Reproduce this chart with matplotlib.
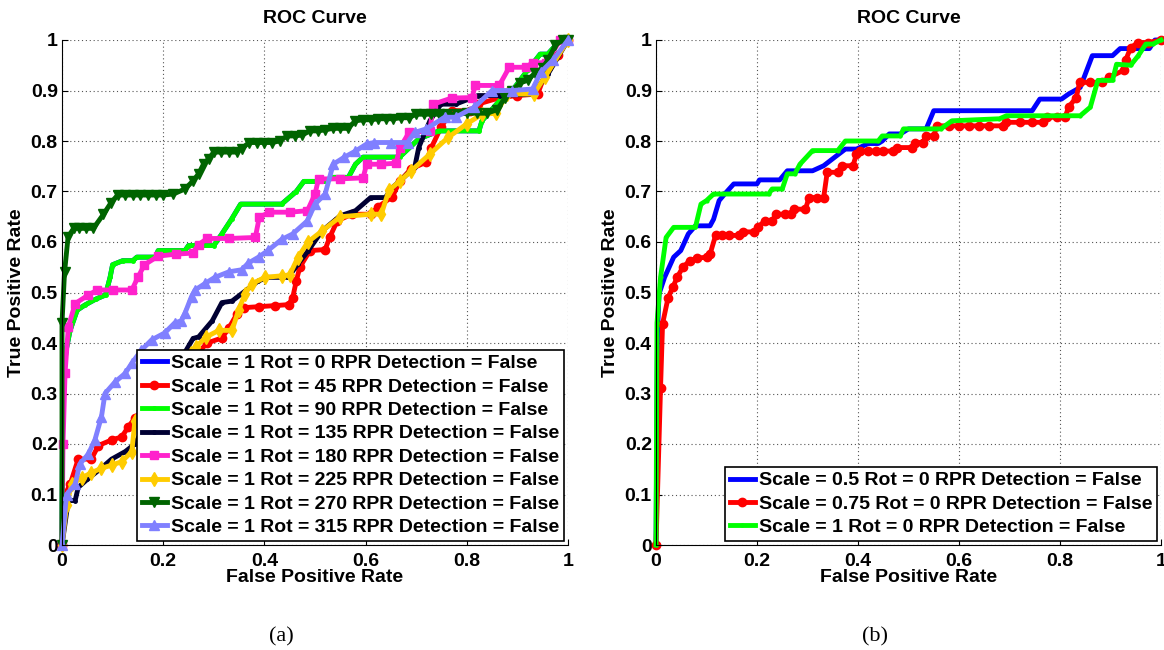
import numpy as np
import matplotlib
matplotlib.use("Agg")
from matplotlib import pyplot as plt
from matplotlib.ticker import FuncFormatter

plt.rcParams['font.family'] = ['Liberation Sans', 'DejaVu Sans']
plt.rcParams['font.weight'] = 'bold'

# (a) same scale, different rotations -- (FPR, TPR) points
roc_90 = [(0, 0), (0.001, 0.25), (0.003, 0.33), (0.008, 0.385), (0.016, 0.425), (0.03, 0.465),
          (0.045, 0.475), (0.067, 0.487), (0.086, 0.495), (0.095, 0.53), (0.1, 0.555), (0.12, 0.563),
          (0.14, 0.563), (0.148, 0.57), (0.185, 0.57), (0.19, 0.583), (0.243, 0.583), (0.25, 0.593),
          (0.30, 0.593), (0.316, 0.616), (0.335, 0.645), (0.353, 0.675), (0.434, 0.675), (0.463, 0.70),
          (0.478, 0.72), (0.52, 0.72), (0.536, 0.728), (0.566, 0.728), (0.58, 0.754), (0.595, 0.768),
          (0.667, 0.768), (0.705, 0.804), (0.745, 0.82), (0.824, 0.82), (0.83, 0.84), (0.865, 0.88),
          (0.89, 0.9), (0.92, 0.94), (0.945, 0.972), (0.96, 0.972), (0.985, 1.0), (1.0, 1.0)]
roc_0 = list(roc_90)  # rot 0 is completely covered by the other curves
roc_45 = [(0, 0), (0.006, 0.1), (0.016, 0.12), (0.032, 0.17), (0.058, 0.17), (0.072, 0.197),
          (0.098, 0.208), (0.118, 0.214), (0.131, 0.234), (0.144, 0.251), (0.152, 0.255), (0.2, 0.31),
          (0.25, 0.36), (0.287, 0.4), (0.316, 0.41), (0.33, 0.43), (0.346, 0.458), (0.36, 0.47),
          (0.39, 0.472), (0.42, 0.474), (0.448, 0.476), (0.456, 0.49), (0.463, 0.523), (0.47, 0.55),
          (0.49, 0.583), (0.52, 0.585), (0.529, 0.609), (0.544, 0.642), (0.573, 0.655), (0.61, 0.655),
          (0.624, 0.669), (0.653, 0.69), (0.668, 0.721), (0.69, 0.745), (0.72, 0.758), (0.73, 0.787),
          (0.749, 0.827), (0.77, 0.86), (0.807, 0.86), (0.822, 0.873), (0.866, 0.886), (0.9, 0.89),
          (0.94, 0.893), (0.96, 0.946), (0.98, 0.97), (1.0, 1.0)]
roc_135 = [(0, 0), (0.0125, 0.088), (0.026, 0.088), (0.032, 0.114), (0.05, 0.13), (0.075, 0.15),
           (0.098, 0.17), (0.125, 0.185), (0.144, 0.2), (0.2, 0.3), (0.245, 0.385), (0.259, 0.409),
           (0.27, 0.412), (0.297, 0.444), (0.316, 0.48), (0.336, 0.483), (0.362, 0.503), (0.388, 0.523),
           (0.408, 0.53), (0.447, 0.53), (0.466, 0.556), (0.486, 0.582), (0.514, 0.622), (0.55, 0.652),
           (0.58, 0.662), (0.61, 0.688), (0.639, 0.688), (0.653, 0.708), (0.668, 0.721), (0.697, 0.748),
           (0.705, 0.787), (0.727, 0.84), (0.749, 0.873), (0.778, 0.873), (0.822, 0.89), (0.866, 0.89),
           (0.93, 0.893), (0.96, 0.932), (1.0, 1.0)]
roc_180 = [(0, 0), (0.002, 0.2), (0.006, 0.34), (0.0125, 0.432), (0.026, 0.478), (0.052, 0.495),
           (0.07, 0.505), (0.1, 0.505), (0.138, 0.505), (0.15, 0.53), (0.163, 0.555), (0.19, 0.572),
           (0.225, 0.576), (0.258, 0.578), (0.27, 0.595), (0.287, 0.607), (0.33, 0.607), (0.382, 0.609),
           (0.39, 0.649), (0.41, 0.659), (0.45, 0.659), (0.485, 0.662), (0.5, 0.695), (0.507, 0.725),
           (0.55, 0.725), (0.595, 0.727), (0.602, 0.754), (0.63, 0.754), (0.66, 0.756), (0.668, 0.787),
           (0.686, 0.817), (0.727, 0.82), (0.734, 0.873), (0.77, 0.885), (0.81, 0.886), (0.817, 0.91),
           (0.864, 0.91), (0.884, 0.946), (0.917, 0.946), (0.93, 0.955), (0.956, 0.955), (0.985, 1.0),
           (1.0, 1.0)]
roc_225 = [(0, 0), (0.0093, 0.08), (0.019, 0.12), (0.039, 0.133), (0.058, 0.143), (0.078, 0.152),
           (0.098, 0.158), (0.118, 0.165), (0.138, 0.185), (0.144, 0.245), (0.2, 0.3), (0.255, 0.38),
           (0.265, 0.393), (0.285, 0.412), (0.31, 0.425), (0.336, 0.425), (0.349, 0.465), (0.362, 0.498),
           (0.375, 0.517), (0.401, 0.53), (0.434, 0.533), (0.45, 0.535), (0.466, 0.569), (0.486, 0.6),
           (0.514, 0.622), (0.55, 0.65), (0.61, 0.655), (0.631, 0.655), (0.646, 0.702), (0.668, 0.721),
           (0.69, 0.741), (0.727, 0.774), (0.763, 0.807), (0.8, 0.834), (0.83, 0.853), (0.858, 0.855),
           (0.88, 0.893), (0.932, 0.893), (0.954, 0.926), (1.0, 1.0)]
roc_270 = [(0, 0), (0, 0.44), (0.005, 0.54), (0.012, 0.61), (0.023, 0.627), (0.034, 0.627),
           (0.048, 0.627), (0.062, 0.627), (0.082, 0.655), (0.097, 0.678), (0.11, 0.693), (0.125, 0.693),
           (0.14, 0.693), (0.155, 0.693), (0.17, 0.693), (0.185, 0.693), (0.2, 0.693), (0.22, 0.695),
           (0.243, 0.705), (0.258, 0.72), (0.27, 0.735), (0.28, 0.755), (0.29, 0.765), (0.3, 0.778),
           (0.315, 0.778), (0.33, 0.778), (0.345, 0.778), (0.355, 0.785), (0.37, 0.797), (0.385, 0.797),
           (0.4, 0.797), (0.415, 0.797), (0.43, 0.8), (0.445, 0.81), (0.46, 0.81), (0.475, 0.812),
           (0.49, 0.82), (0.505, 0.82), (0.52, 0.822), (0.535, 0.825), (0.55, 0.825), (0.565, 0.825),
           (0.58, 0.84), (0.595, 0.842), (0.61, 0.842), (0.625, 0.844), (0.64, 0.844), (0.655, 0.844),
           (0.67, 0.846), (0.685, 0.846), (0.7, 0.853), (0.715, 0.853), (0.73, 0.853), (0.745, 0.853),
           (0.76, 0.853), (0.78, 0.853), (0.8, 0.855), (0.82, 0.855), (0.84, 0.855), (0.86, 0.862),
           (0.875, 0.885), (0.89, 0.9), (0.905, 0.915), (0.92, 0.92), (0.935, 0.935), (0.95, 0.945),
           (0.96, 0.96), (0.975, 0.99), (0.99, 1.0), (1.0, 1.0)]
roc_315 = [(0, 0), (0.009, 0.1), (0.026, 0.12), (0.035, 0.16), (0.052, 0.18), (0.065, 0.208),
           (0.078, 0.254), (0.085, 0.3), (0.105, 0.323), (0.125, 0.34), (0.138, 0.36), (0.157, 0.386),
           (0.177, 0.406), (0.203, 0.42), (0.223, 0.44), (0.236, 0.444), (0.243, 0.459), (0.256, 0.492),
           (0.263, 0.505), (0.283, 0.518), (0.302, 0.53), (0.33, 0.541), (0.355, 0.545), (0.368, 0.558),
           (0.39, 0.571), (0.408, 0.584), (0.434, 0.605), (0.456, 0.616), (0.485, 0.642), (0.5, 0.675),
           (0.52, 0.695), (0.536, 0.754), (0.558, 0.768), (0.58, 0.78), (0.602, 0.794), (0.617, 0.797),
           (0.65, 0.797), (0.683, 0.797), (0.697, 0.817), (0.72, 0.824), (0.756, 0.847), (0.778, 0.847),
           (0.815, 0.867), (0.85, 0.9), (0.89, 0.9), (0.93, 0.903), (0.946, 0.936), (0.97, 0.96),
           (1.0, 1.0)]
rot_labels = ["Scale = 1 Rot = %d RPR Detection = False" % r for r in [0, 45, 90, 135, 180, 225, 270, 315]]

# (b) rotation 0, different scales
roc_s05 = [(0, 0), (0.003, 0.42), (0.006, 0.497), (0.017, 0.53), (0.035, 0.57), (0.049, 0.583),
           (0.064, 0.616), (0.078, 0.632), (0.107, 0.632), (0.114, 0.645), (0.125, 0.682), (0.136, 0.695),
           (0.154, 0.715), (0.2, 0.715), (0.205, 0.723), (0.245, 0.723), (0.26, 0.741), (0.31, 0.741),
           (0.332, 0.751), (0.354, 0.768), (0.375, 0.784), (0.397, 0.784), (0.42, 0.795), (0.44, 0.795),
           (0.448, 0.8), (0.462, 0.814), (0.484, 0.814), (0.5, 0.824), (0.535, 0.824), (0.55, 0.86),
           (0.745, 0.86), (0.76, 0.883), (0.803, 0.883), (0.817, 0.893), (0.84, 0.906), (0.864, 0.969),
           (0.904, 0.969), (0.919, 0.983), (0.977, 0.983), (0.988, 1.0), (1.0, 1.0)]
roc_s075 = [(0, 0), (0.009, 0.311), (0.013, 0.438), (0.024, 0.49), (0.033, 0.51), (0.042, 0.53),
            (0.053, 0.55), (0.067, 0.563), (0.082, 0.568), (0.1, 0.57), (0.107, 0.576), (0.118, 0.613),
            (0.13, 0.613), (0.145, 0.613), (0.165, 0.613), (0.172, 0.62), (0.194, 0.62), (0.201, 0.629),
            (0.216, 0.642), (0.23, 0.642), (0.238, 0.655), (0.255, 0.655), (0.267, 0.655), (0.274, 0.665),
            (0.296, 0.665), (0.303, 0.688), (0.318, 0.688), (0.332, 0.688), (0.339, 0.738), (0.36, 0.738),
            (0.368, 0.751), (0.39, 0.751), (0.397, 0.774), (0.404, 0.78), (0.42, 0.78), (0.435, 0.78),
            (0.45, 0.78), (0.47, 0.78), (0.477, 0.787), (0.506, 0.787), (0.513, 0.797), (0.528, 0.797),
            (0.535, 0.81), (0.55, 0.81), (0.556, 0.83), (0.58, 0.83), (0.6, 0.83), (0.62, 0.83),
            (0.64, 0.83), (0.66, 0.83), (0.687, 0.83), (0.694, 0.837), (0.72, 0.837), (0.745, 0.837),
            (0.767, 0.837), (0.774, 0.847), (0.795, 0.847), (0.81, 0.847), (0.817, 0.867), (0.832, 0.886),
            (0.839, 0.916), (0.86, 0.916), (0.883, 0.916), (0.897, 0.926), (0.926, 0.94), (0.93, 0.96),
            (0.94, 0.985), (0.955, 0.995), (0.975, 0.995), (1.0, 1.0)]
roc_s1 = [(0, 0), (0.002, 0.44), (0.009, 0.53), (0.02, 0.609), (0.035, 0.629), (0.078, 0.629),
          (0.089, 0.675), (0.1, 0.682), (0.114, 0.695), (0.223, 0.695), (0.23, 0.705), (0.25, 0.705),
          (0.26, 0.735), (0.275, 0.735), (0.285, 0.754), (0.31, 0.781), (0.36, 0.781), (0.375, 0.8),
          (0.44, 0.8), (0.448, 0.81), (0.484, 0.81), (0.49, 0.824), (0.564, 0.824), (0.586, 0.84),
          (0.68, 0.844), (0.694, 0.85), (0.84, 0.85), (0.86, 0.867), (0.875, 0.92), (0.904, 0.92),
          (0.912, 0.952), (0.94, 0.95), (0.955, 0.969), (0.97, 0.992), (0.984, 0.992), (1.0, 1.0)]
scale_labels = ["Scale = 0.5 Rot = 0 RPR Detection = False",
                "Scale = 0.75 Rot = 0 RPR Detection = False",
                "Scale = 1 Rot = 0 RPR Detection = False"]

left_curves = [roc_0, roc_45, roc_90, roc_135, roc_180, roc_225, roc_270, roc_315]
left_styles = [("#0000ff", None, 0), ("#ff0000", "o", 6), ("#00ff00", ".", 5), ("#000033", ".", 5),
               ("#ff22cc", "s", 6), ("#ffcc00", "d", 7), ("#006400", "v", 7), ("#8080ff", "^", 7)]
right_curves = [roc_s05, roc_s075, roc_s1]
right_styles = [("#0000ff", None, 0), ("#ff0000", "o", 6), ("#00ff00", ".", 4)]

fig = plt.figure(figsize=(11.64, 6.5), dpi=100)
ax_a = fig.add_axes([62 / 1164, 1 - 545 / 650, 506 / 1164, 505 / 650])
ax_b = fig.add_axes([656 / 1164, 1 - 545 / 650, 505 / 1164, 505 / 650])


def draw_panel(ax, curves, styles, labels):
    for pts, (col, mk, ms), lab in zip(curves, styles, labels):
        pts = np.array(pts)
        ax.plot(pts[:, 0], pts[:, 1], color=col, lw=3.5, marker=mk, ms=ms, mec=col, mfc=col,
                label=lab, clip_on=False)
    ax.set_xlim(0, 1)
    ax.set_ylim(0, 1)
    ax.set_xticks(np.linspace(0, 1, 6))
    ax.set_yticks(np.linspace(0, 1, 11))
    fmt = FuncFormatter(lambda v, p: "%g" % round(v, 2))
    ax.xaxis.set_major_formatter(fmt)
    ax.yaxis.set_major_formatter(fmt)
    ax.tick_params(direction='in', length=4, labelsize=14, pad=3)
    ax.tick_params(axis='x', pad=6)
    ax.grid(True, linestyle=(0, (1, 2.5)), color='#555555', lw=0.8)
    ax.spines['top'].set_visible(False)
    ax.spines['right'].set_visible(False)
    ax.set_title("ROC Curve", fontsize=14, fontweight='bold', pad=12)
    ax.set_xlabel("False Positive Rate", fontsize=14, fontweight='bold', labelpad=-1)
    ax.set_ylabel("True Positive Rate", fontsize=14, fontweight='bold', labelpad=4)
    leg = ax.legend(loc='lower right', fontsize=14, fancybox=False, framealpha=1, edgecolor='black',
                    borderaxespad=0.2, borderpad=0.25, labelspacing=0.3, handlelength=1.3,
                    handletextpad=0.2)
    leg.get_frame().set_linewidth(1.2)


draw_panel(ax_a, left_curves, left_styles, rot_labels)
draw_panel(ax_b, right_curves, right_styles, scale_labels)

fig.text(281 / 1164, 1 - 637 / 650, "(a)", family='Liberation Serif', fontweight='normal',
         fontsize=16, ha='center', va='center')
fig.text(875 / 1164, 1 - 637 / 650, "(b)", family='Liberation Serif', fontweight='normal',
         fontsize=16, ha='center', va='center')

fig.savefig("out.png", dpi=100)
